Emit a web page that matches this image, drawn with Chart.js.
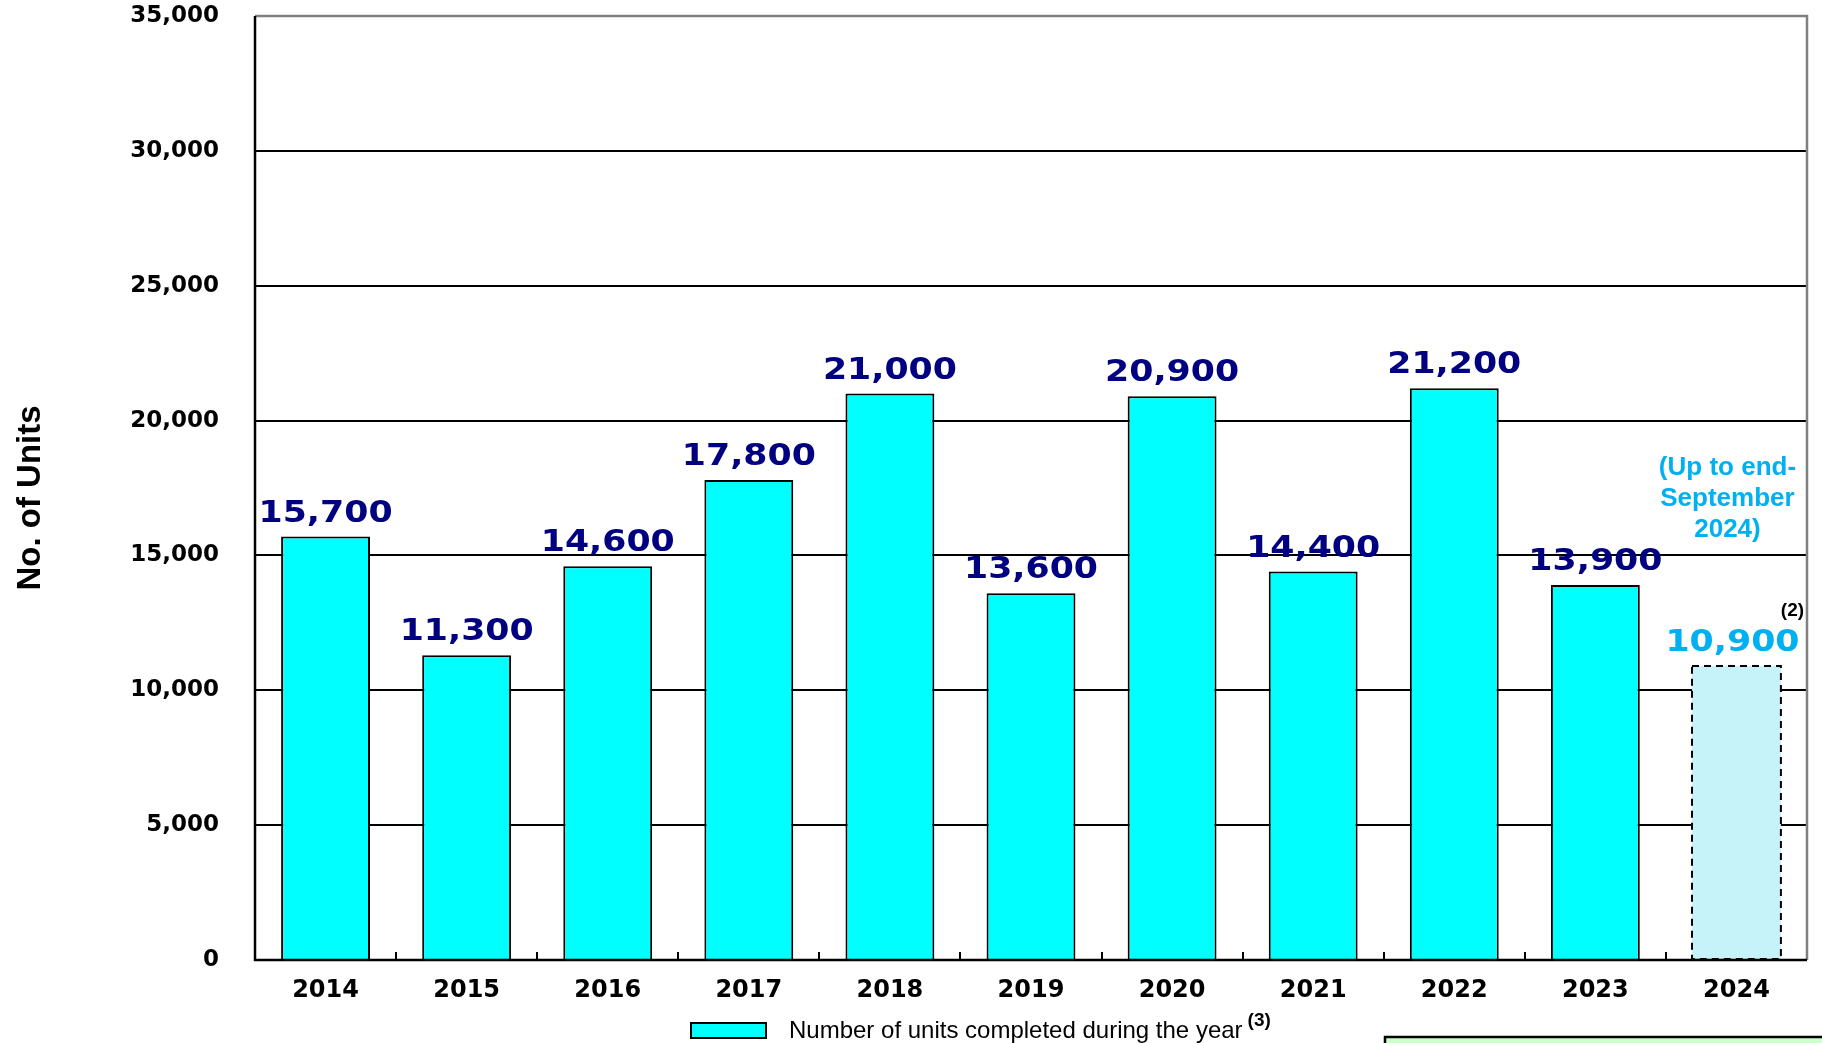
<!DOCTYPE html>
<html>
<head>
<meta charset="utf-8">
<script src="https://cdn.jsdelivr.net/npm/chart.js@4.4.0/dist/chart.umd.min.js"></script>
<style>
  html, body { margin: 0; padding: 0; background: #ffffff; }
  #wrap { position: relative; width: 1822px; height: 1043px; overflow: hidden; }
  canvas { display: block; }
</style>
</head>
<body>
<div id="wrap"><canvas id="c" width="1822" height="1043"></canvas></div>
<script>
// ---- data ----
const years = ['2014', '2015', '2016', '2017', '2018', '2019', '2020', '2021', '2022', '2023', '2024'];
const unitsCompleted = [15700, 11300, 14600, 17800, 21000, 13600, 20900, 14400, 21200, 13900, 10900];
const partialYear = [false, false, false, false, false, false, false, false, false, false, true];
const yTicks = [0, 5000, 10000, 15000, 20000, 25000, 30000, 35000];
const yAxisTitle = 'No. of Units';
const legendLabel = 'Number of units completed during the year';
const legendNote = '(3)';
const partialNote = ['(Up to end-', 'September', '2024)'];
const partialNoteAt = 18000;
const partialMark = '(2)';

// ---- styles ----
const CYAN = '#00ffff';
const PALE = '#c6f3f9';
const NAVY = '#000080';
const SKY = '#00b0f0';
const WIDE = '"DejaVu Sans", Verdana, sans-serif';
const ARIAL = '"Liberation Sans", Arial, sans-serif';

const fmt = v => v.toLocaleString('en-US');

const decor = {
  id: 'decor',
  beforeDatasetsDraw(chart) {
    const { ctx, chartArea: a, scales: { x } } = chart;
    ctx.save();
    ctx.strokeStyle = '#000';
    ctx.lineWidth = 2;
    for (let i = 0; i < years.length - 1; i++) {
      const px = Math.round((x.getPixelForValue(i) + x.getPixelForValue(i + 1)) / 2);
      ctx.beginPath();
      ctx.moveTo(px, a.bottom);
      ctx.lineTo(px, a.bottom - 8);
      ctx.stroke();
    }
    ctx.restore();
  },
  afterDatasetsDraw(chart) {
    const { ctx, chartArea: a, scales: { y } } = chart;
    const meta = chart.getDatasetMeta(0);
    ctx.save();
    // dashed outline for the partial-year bar
    meta.data.forEach((bar, i) => {
      if (!partialYear[i]) return;
      const p = bar.getProps(['x', 'y', 'width', 'base'], true);
      ctx.strokeStyle = '#000';
      ctx.lineWidth = 2;
      ctx.setLineDash([7, 5]);
      ctx.strokeRect(p.x - p.width / 2, p.y, p.width, p.base - p.y);
      ctx.setLineDash([]);
    });
    // plot border top/right (grey)
    ctx.strokeStyle = '#808080';
    ctx.lineWidth = 2.5;
    ctx.beginPath();
    ctx.moveTo(a.left, a.top);
    ctx.lineTo(a.right, a.top);
    ctx.lineTo(a.right, a.bottom);
    ctx.stroke();
    // axes
    ctx.strokeStyle = '#000';
    ctx.beginPath();
    ctx.moveTo(a.left, a.top);
    ctx.lineTo(a.left, a.bottom);
    ctx.lineTo(a.right, a.bottom);
    ctx.stroke();

    // value labels
    ctx.textAlign = 'center';
    ctx.textBaseline = 'alphabetic';
    meta.data.forEach((bar, i) => {
      ctx.fillStyle = partialYear[i] ? SKY : NAVY;
      ctx.font = 'bold 31px ' + WIDE;
      ctx.save();
      ctx.translate(bar.x - (partialYear[i] ? 4 : 0), bar.y - 15);
      ctx.scale(1.12, 1);
      ctx.fillText(fmt(unitsCompleted[i]), 0, 0);
      ctx.restore();
      if (partialYear[i]) {
        ctx.fillStyle = '#000';
        ctx.font = 'bold 19px ' + ARIAL;
        ctx.fillText(partialMark, bar.x + 56, bar.y - 50);
        ctx.fillStyle = SKY;
        ctx.font = 'bold 26px ' + ARIAL;
        partialNote.forEach((t, k) => ctx.fillText(t, bar.x - 9, y.getPixelForValue(partialNoteAt) + k * 31));
      }
    });

    // y axis title
    ctx.save();
    ctx.translate(40, (a.top + a.bottom) / 2 + 10);
    ctx.rotate(-Math.PI / 2);
    ctx.fillStyle = '#000';
    ctx.font = 'bold 33px ' + ARIAL;
    ctx.textAlign = 'center';
    ctx.fillText(yAxisTitle, 0, 0);
    ctx.restore();

    // legend
    ctx.fillStyle = CYAN;
    ctx.fillRect(691, 1023, 75, 15);
    ctx.strokeStyle = '#000';
    ctx.lineWidth = 2;
    ctx.strokeRect(691, 1023, 75, 15);
    ctx.fillStyle = '#000';
    ctx.textAlign = 'left';
    ctx.font = '24px ' + ARIAL;
    ctx.fillText(legendLabel, 789, 1038);
    const w = ctx.measureText(legendLabel).width;
    ctx.font = 'bold 19px ' + ARIAL;
    ctx.fillText(legendNote, 789 + w + 5, 1026);

    // green note box (partially visible)
    ctx.fillStyle = '#ccffcc';
    ctx.fillRect(1385, 1037, 460, 20);
    ctx.strokeStyle = '#000';
    ctx.lineWidth = 2.5;
    ctx.strokeRect(1385, 1037, 460, 20);
    ctx.restore();
  }
};

new Chart(document.getElementById('c'), {
  type: 'bar',
  data: {
    labels: years,
    datasets: [{
      data: unitsCompleted,
      backgroundColor: partialYear.map(p => p ? PALE : CYAN),
      borderColor: '#000',
      borderWidth: partialYear.map(p => p ? 0 : 2),
      categoryPercentage: 1,
      barPercentage: 0.63
    }]
  },
  options: {
    responsive: false,
    animation: false,
    devicePixelRatio: 1,
    layout: { padding: { left: 0, right: 15, top: 16, bottom: 0 } },
    plugins: { legend: { display: false }, tooltip: { enabled: false } },
    elements: { bar: { borderSkipped: 'bottom' } },
    scales: {
      x: {
        grid: { display: false, drawTicks: false },
        border: { display: false },
        ticks: { color: '#000', font: { family: WIDE, size: 24, weight: 'bold' }, padding: 16 },
        afterFit: s => { s.height = 83; s.paddingLeft = 0; s.paddingRight = 0; }
      },
      y: {
        min: 0,
        max: 35000,
        afterBuildTicks: s => { s.ticks = yTicks.map(v => ({ value: v })); },
        grid: {
          color: c => c.tick && c.tick.value === 35000 ? '#808080' : '#000',
          lineWidth: 2,
          drawTicks: false
        },
        border: { display: false },
        ticks: {
          color: '#000',
          font: { family: WIDE, size: 23, weight: 'bold' },
          padding: 36,
          callback: v => fmt(v)
        },
        afterFit: s => { s.width = 255; s.paddingTop = 0; s.paddingBottom = 0; }
      }
    }
  },
  plugins: [decor]
});
</script>
</body>
</html>
